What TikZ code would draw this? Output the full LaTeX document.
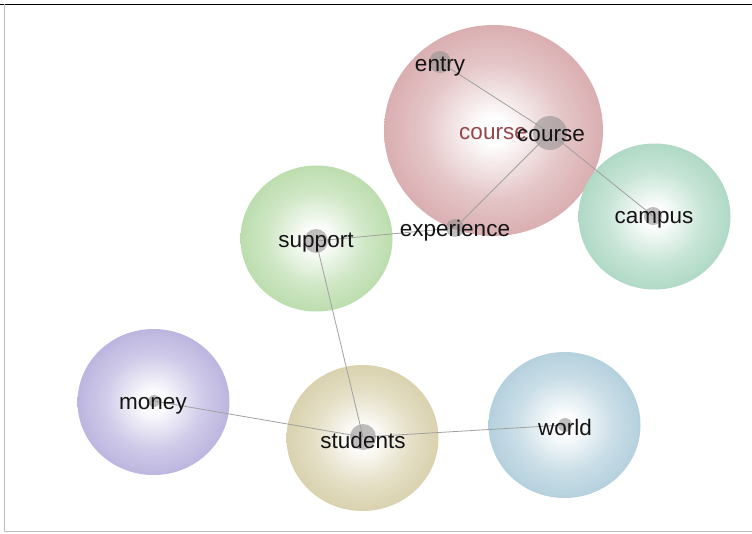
\documentclass[tikz,border=0pt]{standalone}
\usepackage{fontspec}
\setmainfont{Liberation Sans}
\usetikzlibrary{shapes.geometric}
\definecolor{cred}{RGB}{196,128,132}
\definecolor{ccampus}{RGB}{130,196,164}
\definecolor{csupport}{RGB}{150,202,128}
\definecolor{cmoney}{RGB}{150,140,206}
\definecolor{cstudents}{RGB}{196,184,128}
\definecolor{cworld}{RGB}{138,182,202}
\definecolor{edgegray}{RGB}{160,160,160}
\definecolor{dotgray}{RGB}{150,145,145}
\definecolor{redtext}{RGB}{150,70,72}
\newcommand\mkball[2]{\pgfdeclareradialshading{#1}{\pgfpoint{0bp}{0bp}}{color(0bp)=(white); color(3bp)=(white); color(16bp)=(#2!45!white); color(32bp)=(#2!78!white); color(50bp)=(#2)}}
\mkball{ballred}{cred}
\mkball{ballcampus}{ccampus}
\mkball{ballsupport}{csupport}
\mkball{ballmoney}{cmoney}
\mkball{ballstudents}{cstudents}
\mkball{ballworld}{cworld}
\tikzset{
  ball/.style={ellipse, inner sep=0pt, minimum width=152pt, minimum height=146pt},
  dotnode/.style={circle, inner sep=0pt, fill=dotgray, fill opacity=0.6, minimum size=#1},
  word/.style={inner sep=0pt, font=\fontsize{22.5}{26}\selectfont, text=black!92},
  link/.style={draw=edgegray, line width=0.8pt}
}
\begin{document}
\begin{tikzpicture}[x=1pt,y=-1pt]
\useasboundingbox (0,0) rectangle (752,533);
\fill[white] (0,0) rectangle (752,533);
% frame
\draw[black, line width=1.5pt] (0,4.3) -- (752,4.3);
\draw[black!25, line width=1pt] (4.7,4.3) -- (4.7,531.5) -- (752,531.5);
% balls
\node[ball, minimum width=219pt, minimum height=211pt, shading=ballred] (bcourse) at (493.5,130.5) {};
\node[ball, shading=ballcampus] (bcampus) at (654.5,216.5) {};
\node[ball, shading=ballsupport] (bsupport) at (316.5,238.5) {};
\node[ball, shading=ballmoney] (bmoney) at (153.5,402) {};
\node[ball, shading=ballstudents] (bstudents) at (362.5,438) {};
\node[ball, shading=ballworld] (bworld) at (564.5,425) {};
% dots
\node[dotnode=22pt] (entry) at (440,62) {};
\node[dotnode=34pt] (course) at (550,133) {};
\node[dotnode=18pt] (experience) at (455,228) {};
\node[dotnode=18pt] (campus) at (653,216) {};
\node[dotnode=24pt] (support) at (316,241) {};
\node[dotnode=12pt] (money) at (154,401) {};
\node[dotnode=26pt] (students) at (363,437) {};
\node[dotnode=14pt] (world) at (565,425) {};
% links
\draw[link] (entry.center) -- (course.center);
\draw[link] (course.center) -- (campus.center);
\draw[link] (course.center) -- (experience.center);
\draw[link] (experience.center) -- (support.center);
\draw[link] (support.center) -- (students.center);
\draw[link] (money.center) -- (students.center);
\draw[link] (students.center) -- (world.center);
% labels
\node[word, text=redtext] (lcourse2) at (493,134) {course};
\node[word] (lentry) at (440,67) {entry};
\node[word] (lcourse) at (551,136) {course};
\node[word] (lexperience) at (455,231) {experience};
\node[word] (lcampus) at (654,220) {campus};
\node[word] (lsupport) at (316,243) {support};
\node[word] (lmoney) at (153,406) {money};
\node[word] (lstudents) at (363,440) {students};
\node[word] (lworld) at (565,427) {world};
\end{tikzpicture}
\end{document}
